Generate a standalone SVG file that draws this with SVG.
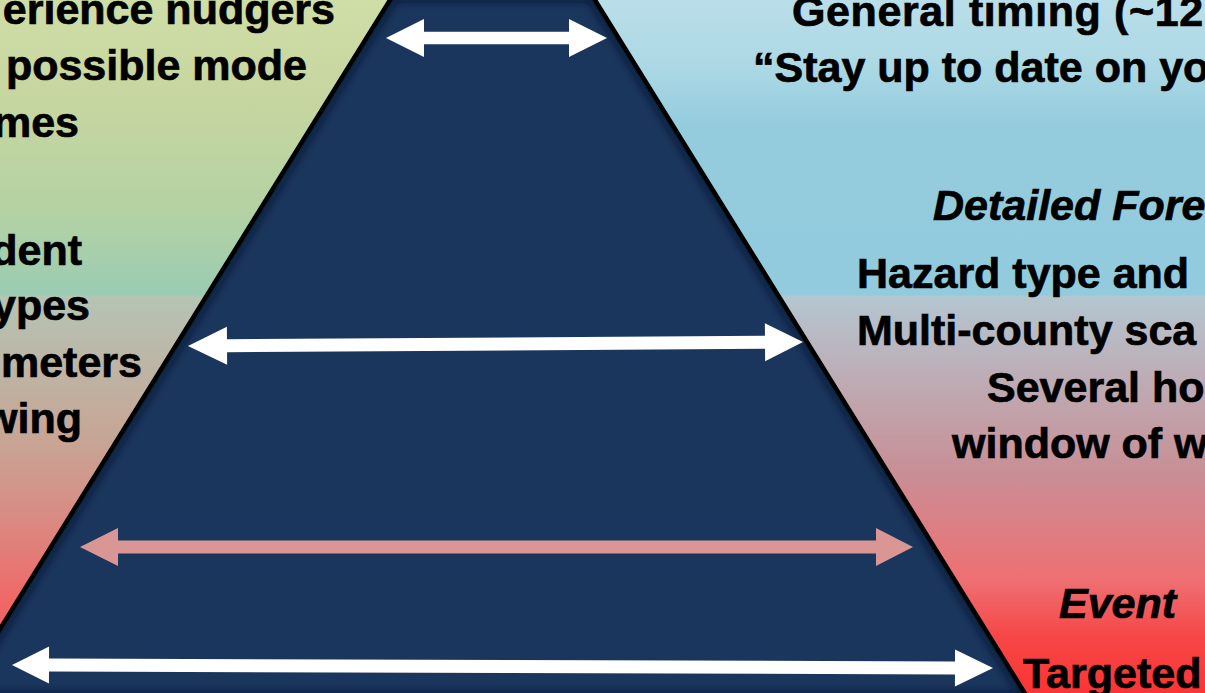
<svg xmlns="http://www.w3.org/2000/svg" width="1205" height="693" viewBox="0 0 1205 693">
<defs>
<linearGradient id="gl" gradientUnits="userSpaceOnUse" x1="0" y1="0" x2="0" y2="693">
<stop offset="0" stop-color="#CFDDA6"/>
<stop offset="0.14" stop-color="#C7D6A0"/>
<stop offset="0.30" stop-color="#B5D2A3"/>
<stop offset="0.426" stop-color="#9ACCB3"/>
<stop offset="0.428" stop-color="#B5C4B4"/>
<stop offset="0.635" stop-color="#C7A595"/>
<stop offset="0.75" stop-color="#DA8A82"/>
<stop offset="0.866" stop-color="#F06868"/>
<stop offset="1" stop-color="#F44E52"/>
</linearGradient>
<linearGradient id="gr" gradientUnits="userSpaceOnUse" x1="0" y1="0" x2="0" y2="693">
<stop offset="0" stop-color="#B9DEE9"/>
<stop offset="0.09" stop-color="#ADD9E5"/>
<stop offset="0.18" stop-color="#94CCDE"/>
<stop offset="0.425" stop-color="#92CBDD"/>
<stop offset="0.428" stop-color="#B4C6D0"/>
<stop offset="0.68" stop-color="#C88F96"/>
<stop offset="0.835" stop-color="#EE7073"/>
<stop offset="0.92" stop-color="#F74646"/>
<stop offset="1" stop-color="#FB3434"/>
</linearGradient>
<clipPath id="pc">
<polygon points="393.1,-5 591.9,-5 1027.8,698 -42.8,698"/>
</clipPath>
<filter id="blur" x="-10%" y="-10%" width="120%" height="120%">
<feGaussianBlur stdDeviation="4"/>
</filter>
</defs>
<style>
.t{font-family:"Liberation Sans",Arial,sans-serif;font-weight:bold;font-size:43px;fill:#000;stroke:#000;stroke-width:0.7px}
.i{font-style:italic}
.e{text-anchor:end}
.w{fill:#FFFFFF}
.p{fill:#DA9595}
</style>
<g id="background">
<rect x="0" y="0" width="495" height="693" fill="url(#gl)"/>
<rect x="495" y="0" width="710" height="693" fill="url(#gr)"/>
</g>
<g id="pyramid">
<polygon points="393.1,-5 591.9,-5 1027.8,698 -42.8,698" fill="#1A365D"/>
<g clip-path="url(#pc)">
<polygon points="393.1,-5 591.9,-5 1027.8,698 -42.8,698" fill="none" stroke="#07142A" stroke-width="12" stroke-opacity="0.7" filter="url(#blur)"/>
</g>
<polygon points="393.1,-5 591.9,-5 1027.8,698 -42.8,698" fill="none" stroke="#000" stroke-width="4.5"/>
</g>
<g id="connectors">
<polygon class="w" points="386,38 424,19 424,31.7 569,31.7 569,19 607,38 569,57 569,44.3 424,44.3 424,57"/>
<polygon class="w" transform="rotate(-0.37 495.5 344)" points="188,344 227,325 227,337.5 765,337.5 765,325 803,344 765,363 765,350.5 227,350.5 227,363"/>
<polygon class="p" points="80,547 118,528 118,540.5 876,540.5 876,528 913,547 876,566 876,553.5 118,553.5 118,566"/>
<polygon class="w" transform="rotate(0.175 502.5 666.5)" points="12,666.5 49,648 49,660 955,660 955,648 993,666.5 955,685 955,673 49,673 49,685"/>
</g>
<g id="left-top">
<text class="t e" x="335" y="24">erience nudgers</text>
<text class="t e" x="307" y="80">possible mode</text>
<text class="t e" x="79" y="137">mes</text>
</g>
<g id="left-middle">
<text class="t e" x="82" y="265">dent</text>
<text class="t e" x="90" y="320">ypes</text>
<text class="t e" x="142" y="377">meters</text>
<text class="t e" x="82" y="433">wing</text>
</g>
<g id="right-top">
<text class="t" x="792" y="26" letter-spacing="0.6">General timing (~12</text>
<text class="t" x="753" y="82">“Stay up to date on yo</text>
</g>
<g id="right-middle">
<text class="t i" x="933" y="220">Detailed Fore</text>
<text class="t" x="857" y="288">Hazard type and</text>
<text class="t" x="857" y="345">Multi-county sca</text>
<text class="t" x="987" y="402">Several ho</text>
<text class="t" x="952" y="458">window of w</text>
</g>
<g id="right-bottom">
<text class="t i" x="1059" y="618">Event</text>
<text class="t" x="1023" y="688">Targeted</text>
</g>
</svg>
